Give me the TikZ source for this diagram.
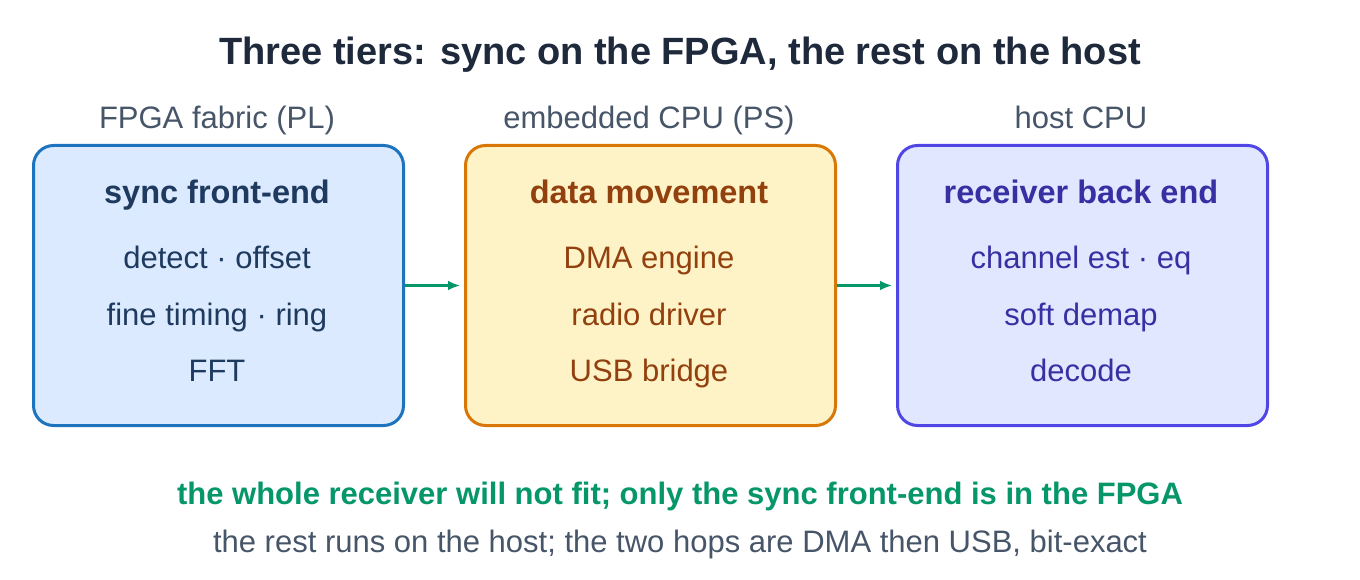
\documentclass[tikz,border=0pt]{standalone}
\usepackage{fontspec}
\setmainfont{Liberation Sans}
\usetikzlibrary{arrows.meta}
\definecolor{ttl}{HTML}{1E293B}
\definecolor{hdr}{HTML}{475569}
\definecolor{gA}{HTML}{DBEAFE}\definecolor{sA}{HTML}{1E73BE}\definecolor{tA}{HTML}{1E3A5F}
\definecolor{gB}{HTML}{FEF3C7}\definecolor{sB}{HTML}{D97706}\definecolor{tB}{HTML}{92400E}
\definecolor{gC}{HTML}{E0E7FF}\definecolor{sC}{HTML}{4F46E5}\definecolor{tC}{HTML}{3730A3}
\definecolor{grn}{HTML}{059669}
\begin{document}
\begin{tikzpicture}[x=1pt,y=-1pt,
  every node/.append style={anchor=base, inner sep=0pt},
  box/.style={draw, line width=3pt, rounded corners=20pt, minimum width=370pt, minimum height=280pt, anchor=north west},
  hd/.style={text=hdr, font=\fontsize{31}{36}\selectfont},
  bt/.style={font=\fontsize{32.5}{38}\selectfont\bfseries},
  it/.style={font=\fontsize{31}{36}\selectfont},
  arr/.style={draw=grn, line width=3pt, -{Latex[length=12pt,width=10pt]}}]
\useasboundingbox (0,0) rectangle (1360,580);
\node[text=ttl, font=\fontsize{38}{44}\selectfont\bfseries] (title) at (680,65) {Three tiers: sync on the FPGA, the rest on the host};
\node[hd] (h1) at (217,129) {FPGA fabric (PL)};
\node[hd] (h2) at (649,129) {embedded CPU (PS)};
\node[hd] (h3) at (1081,129) {host CPU};
\node[box, draw=sA, fill=gA] (b1) at (32,144) {};
\node[box, draw=sB, fill=gB] (b2) at (464,144) {};
\node[box, draw=sC, fill=gC] (b3) at (896,144) {};
\node[bt,text=tA] (t1) at (217,204) {sync front-end};
\node[it,text=tA] (a1) at (217,269) {detect · offset};
\node[it,text=tA] (a2) at (217,325) {fine timing · ring};
\node[it,text=tA] (a3) at (217,381) {FFT};
\node[bt,text=tB] (t2) at (649,204) {data movement};
\node[it,text=tB] (c1) at (649,269) {DMA engine};
\node[it,text=tB] (c2) at (649,325) {radio driver};
\node[it,text=tB] (c3) at (649,381) {USB bridge};
\node[bt,text=tC] (t3) at (1081,204) {receiver back end};
\node[it,text=tC] (d1) at (1081,269) {channel est · eq};
\node[it,text=tC] (d2) at (1081,325) {soft demap};
\node[it,text=tC] (d3) at (1081,381) {decode};
\draw[arr] (b1.east) -- ([xshift=-4pt]b2.west);
\draw[arr] (b2.east) -- ([xshift=-4pt]b3.west);
\node[text=grn, font=\fontsize{31}{36}\selectfont\bfseries] (n1) at (680,504) {the whole receiver will not fit; only the sync front-end is in the FPGA};
\node[hd] (n2) at (680,552) {the rest runs on the host; the two hops are DMA then USB, bit-exact};
\end{tikzpicture}
\end{document}
